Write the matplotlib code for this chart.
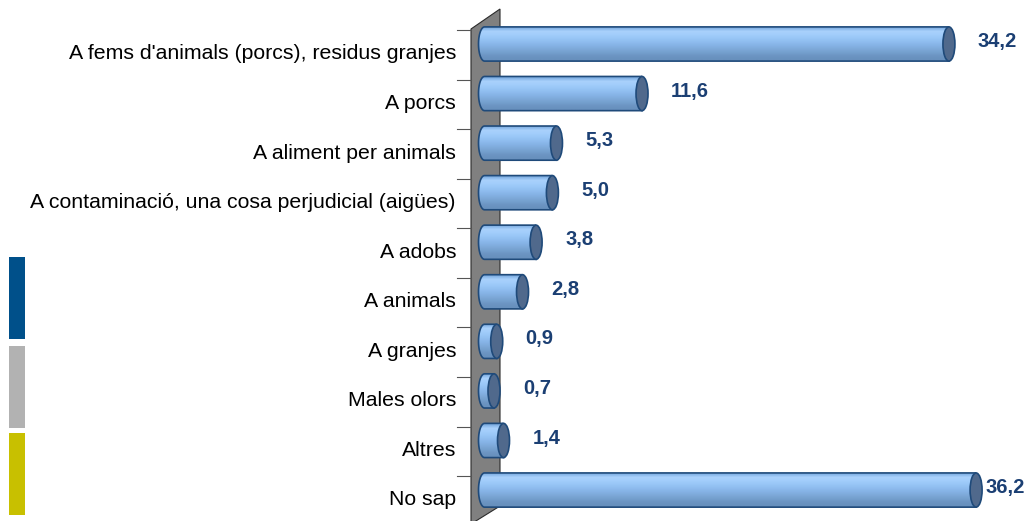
import numpy as np
import matplotlib.pyplot as plt
from matplotlib.patches import Polygon, Ellipse, Rectangle, PathPatch
from matplotlib.path import Path
from matplotlib.colors import to_rgb

plt.rcParams['font.family'] = ['Liberation Sans', 'DejaVu Sans']

categories = ["A fems d'animals (porcs), residus granjes", "A porcs", "A aliment per animals",
              "A contaminació, una cosa perjudicial (aigües)", "A adobs", "A animals",
              "A granjes", "Males olors", "Altres", "No sap"]
values = [34.2, 11.6, 5.3, 5.0, 3.8, 2.8, 0.9, 0.7, 1.4, 36.2]

# pixel layout helpers (figure is 1032 x 521 px)
W, H = 1032, 521
x0_px, x_scale = 484.5, 13.58      # px of value 0, px per unit
y0_px, y_step = 44.0, 49.56        # px of first bar centre, px per category

def dx(px):
    return (px - x0_px) / x_scale

def dy(py):
    return (py - y0_px) / y_step

fig = plt.figure(figsize=(W / 100, H / 100), dpi=100)
ax = fig.add_axes([0, 0, 1, 1])
ax.axis('off')

# back wall
wall = Polygon([(dx(471), dy(29)), (dx(500), dy(9)), (dx(500), dy(506)), (dx(471), dy(524))],
               closed=True, facecolor='#808080', edgecolor='#2b2b2b', lw=0.8, zorder=1)
ax.add_patch(wall)

# tick marks on the left of the wall
for i in range(len(categories)):
    yt = i - 0.28
    ax.plot([dx(457), dx(471)], [yt, yt], color='#555555', lw=0.8, zorder=1)

# bar gradient (top to bottom)
grad_cols = ['#7eaee2', '#a9d1fc', '#a2cdfb', '#98c6f6', '#8fbdef', '#86b3e6',
             '#7eaada', '#75a0ce', '#6c95c3', '#6890bd']
grad = np.array([to_rgb(c) for c in grad_cols])[:, None, :]

h = 0.69
cap_w = dx(496) - dx(484)
edge_col = '#1f4a7a'
cap_col = '#50698c'
lab_col = '#1b3f73'

for i, v in enumerate(values):
    top, bot = i - h / 2, i + h / 2
    t = np.linspace(np.pi / 2, 3 * np.pi / 2, 30)
    left = np.column_stack([cap_w / 2 * np.cos(t), i - h / 2 * np.sin(t)])
    verts = np.vstack([[[v, top]], left, [[v, bot]], [[v, top]]])
    path = Path(verts)
    body = PathPatch(path, facecolor='none', edgecolor=edge_col, lw=1.2, zorder=4)
    ax.add_patch(body)
    im = ax.imshow(grad, extent=(-cap_w / 2, v, bot, top), aspect='auto',
                   interpolation='bilinear', zorder=3)
    im.set_clip_path(body)
    cap = Ellipse((v, i), cap_w, h, facecolor=cap_col, edgecolor=edge_col, lw=1.2, zorder=5)
    ax.add_patch(cap)

    # category label
    ax.text(dx(456), i + 0.2, categories[i], ha='right', va='center', fontsize=15.3, color='black')

    # value label
    txt = f'{v:.1f}'.replace('.', ',')
    xl = v + 29 / x_scale
    if xl > dx(985):
        ax.text(dx(1025), i - 0.05, txt, ha='right', va='center', fontsize=14.5,
                fontweight='bold', color=lab_col)
    else:
        ax.text(xl, i - 0.05, txt, ha='left', va='center', fontsize=14.5,
                fontweight='bold', color=lab_col)

ax.set_xlim(dx(0), dx(W))
ax.set_ylim(dy(H), dy(0))

# decorative strips on the left
for (y_a, y_b), col in zip([(257, 339), (346, 428), (433, 515)], ['#00508a', '#b2b2b2', '#c8c000']):
    fig.patches.append(Rectangle((9 / W, 1 - y_b / H), 16 / W, (y_b - y_a) / H,
                                 transform=fig.transFigure, facecolor=col, edgecolor='none'))

fig.savefig('out.png', dpi=100)
